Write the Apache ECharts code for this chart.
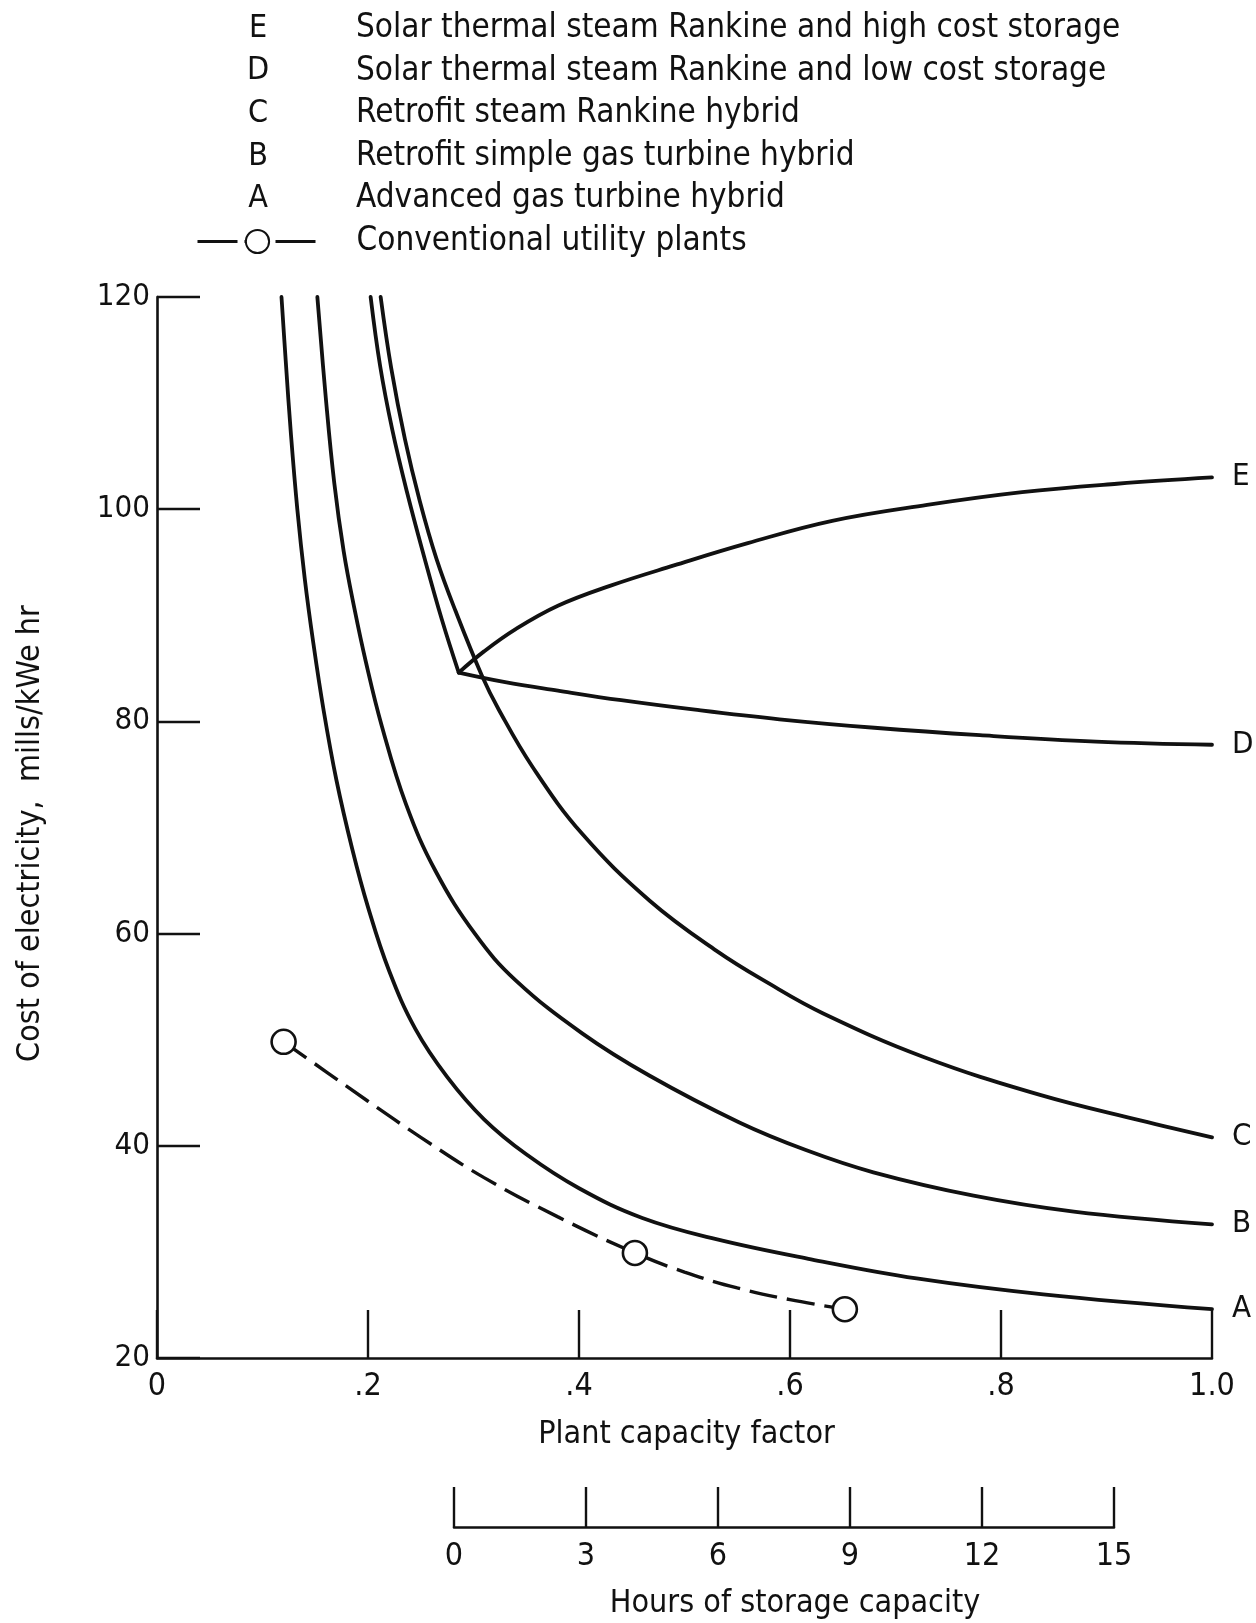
<!DOCTYPE html>
<html>
<head>
<meta charset="utf-8">
<script src="https://cdn.jsdelivr.net/npm/echarts@6/dist/echarts.min.js"></script>
<style>
  html, body { margin: 0; padding: 0; background: #ffffff; }
  #chart { width: 1256px; height: 1623px; }
</style>
</head>
<body>
<div id="chart"></div>
<script>
// Cost of electricity vs. plant capacity factor for solar / hybrid plant options.
// Each curve is a list of [capacity factor, cost in mills/kWe hr] points.

const curveA = [[0.118,120],[0.122,114],[0.127,107],[0.133,100],[0.140,93.5],[0.148,87.5],[0.158,81],
  [0.170,74.5],[0.185,68],[0.200,62.5],[0.220,56.5],[0.245,51],[0.275,46.5],[0.31,42.5],[0.35,39.2],
  [0.40,36],[0.46,33.2],[0.53,31.2],[0.62,29.3],[0.72,27.5],[0.84,26.0],[1.0,24.6]];

const curveB = [[0.152,120],[0.160,110.5],[0.168,102.5],[0.177,96],[0.187,90.7],[0.198,85.6],[0.213,79.6],
  [0.236,72.2],[0.264,65.9],[0.302,59.9],[0.340,55.6],[0.403,50.6],[0.467,46.6],[0.552,42.2],[0.615,39.6],
  [0.679,37.5],[0.774,35.3],[0.869,33.8],[1.0,32.6]];

const curveC = [[0.212,120],[0.222,113.3],[0.235,106.6],[0.249,100.8],[0.265,95.3],[0.283,90.4],[0.308,84.3],
  [0.324,81.1],[0.356,75.7],[0.403,69.4],[0.467,63.1],[0.530,58.4],[0.58,55.3],[0.631,52.5],[0.726,48.4],
  [0.837,44.8],[0.932,42.4],[1.0,40.8]];

// collector-only leg shared by D and E, up to the point where storage is added
const curveDEShared = [[0.2025,120],[0.2115,113.5],[0.223,107.5],[0.237,101.6],[0.253,95.6],[0.270,89.6],[0.286,84.6]];

const curveD = [[0.286,84.6],[0.33,83.7],[0.38,82.9],[0.44,82.0],[0.51,81.1],[0.59,80.2],[0.68,79.4],
  [0.78,78.7],[0.89,78.1],[1.0,77.8]];

const curveE = [[0.286,84.6],[0.31,86.6],[0.34,88.7],[0.38,90.9],[0.43,92.8],[0.49,94.7],[0.56,96.8],
  [0.64,98.9],[0.73,100.4],[0.82,101.6],[0.91,102.4],[1.0,103.0]];

const conventionalPath = [[0.12,49.8],[0.16,47.0],[0.20,44.2],[0.25,40.8],[0.31,37.0],[0.38,33.3],
  [0.453,29.9],[0.50,28.1],[0.55,26.6],[0.60,25.5],[0.652,24.6]];
const conventionalPlants = [[0.12,49.8],[0.453,29.9],[0.652,24.6]];

const seriesLetters = ['E', 'D', 'C', 'B', 'A'];
const seriesDescriptions = [
  'Solar thermal steam Rankine and high cost storage',
  'Solar thermal steam Rankine and low cost storage',
  'Retrofit steam Rankine hybrid',
  'Retrofit simple gas turbine hybrid',
  'Advanced gas turbine hybrid'
];
const conventionalName = 'Conventional utility plants';

const capacityTicks = [0, 0.2, 0.4, 0.6, 0.8, 1.0];
const costTicks = [20, 40, 60, 80, 100, 120];
const storageHourTicks = [0, 3, 6, 9, 12, 15];

const xTitle = 'Plant capacity factor';
const yTitle = 'Cost of electricity,  mills/kWe hr';
const storageTitle = 'Hours of storage capacity';

const FONT = "'DejaVu Sans Condensed', 'Liberation Sans Narrow', 'DejaVu Sans', sans-serif";
const NUM_FONT = "'Liberation Sans Narrow', 'DejaVu Sans Condensed', sans-serif";
const INK = '#111111';

const chart = echarts.init(document.getElementById('chart'), null, { renderer: 'canvas' });

function solidCurve(name, data, withLabel) {
  return {
    name: name,
    type: 'line',
    xAxisIndex: 0,
    yAxisIndex: 0,
    data: data,
    smooth: 0.4,
    symbol: 'none',
    lineStyle: { color: INK, width: 3.8, cap: 'round', join: 'round' },
    itemStyle: { color: INK },
    emphasis: { disabled: true },
    silent: true,
    z: 3,
    endLabel: withLabel ? {
      show: true,
      formatter: '{a}',
      distance: 20,
      color: INK,
      fontFamily: FONT,
      fontSize: 31
    } : { show: false }
  };
}

const plantKey = p => p[0] + ',' + p[1];
const plantSet = new Set(conventionalPlants.map(plantKey));
const conventionalData = conventionalPath.map(p =>
  plantSet.has(plantKey(p)) ? { value: p } : { value: p, symbol: 'none' });

const capFmt = v => {
  if (v === 0) return '0';
  if (Math.abs(v - 1) < 1e-9) return '1.0';
  return '.' + Math.round(v * 10);
};

const option = {
  backgroundColor: '#ffffff',
  animation: false,
  textStyle: { fontFamily: FONT, color: INK },
  grid: [
    { left: 157, right: 44, top: 297, bottom: 265, containLabel: false },
    { left: 454, width: 660, top: 1487, height: 40, containLabel: false }
  ],
  legend: [
    {
      data: seriesLetters.map(n => ({ name: n, icon: 'none' })),
      orient: 'vertical',
      left: 150,
      top: 7,
      itemWidth: 0,
      itemHeight: 12,
      itemGap: 9.6,
      selectedMode: false,
      formatter: name => '{k|' + name + '}{t|' + seriesDescriptions[seriesLetters.indexOf(name)] + '}',
      textStyle: {
        color: INK,
        fontFamily: FONT,
        fontSize: 33,
        rich: {
          k: { width: 196, align: 'center', fontSize: 32, fontFamily: FONT, color: INK, lineHeight: 34 },
          t: { fontSize: 33, fontFamily: FONT, color: INK, lineHeight: 34 }
        }
      }
    },
    {
      data: [conventionalName],
      orient: 'vertical',
      left: 191,
      top: 220,
      itemWidth: 120,
      itemHeight: 29,
      selectedMode: false,
      lineStyle: { type: [40, 7, 24, 7], width: 3 },
      textStyle: { color: INK, fontFamily: FONT, fontSize: 33, padding: [0, 0, 0, 34] }
    }
  ],
  xAxis: [
    {
      type: 'value',
      gridIndex: 0,
      min: capacityTicks[0],
      max: capacityTicks[capacityTicks.length - 1],
      interval: 0.2,
      name: xTitle,
      nameLocation: 'middle',
      nameGap: 57,
      nameTextStyle: { fontFamily: FONT, fontSize: 32, color: INK, padding: [4, 0, 0, 4] },
      axisLine: { show: true, onZero: false, lineStyle: { color: INK, width: 2.6 } },
      axisTick: { show: true, inside: true, length: 48, lineStyle: { color: INK, width: 2.4 } },
      axisLabel: { formatter: capFmt, fontFamily: NUM_FONT, fontSize: 32, color: INK, margin: 13 },
      splitLine: { show: false }
    },
    {
      type: 'value',
      gridIndex: 1,
      min: storageHourTicks[0],
      max: storageHourTicks[storageHourTicks.length - 1],
      interval: 3,
      name: storageTitle,
      nameLocation: 'middle',
      nameGap: 57,
      nameTextStyle: { fontFamily: FONT, fontSize: 32, color: INK, padding: [4, 0, 0, 22] },
      axisLine: { show: true, onZero: false, lineStyle: { color: INK, width: 2.6 } },
      axisTick: { show: true, inside: true, length: 40, lineStyle: { color: INK, width: 2.4 } },
      axisLabel: { fontFamily: NUM_FONT, fontSize: 32, color: INK, margin: 14 },
      splitLine: { show: false }
    }
  ],
  yAxis: [
    {
      type: 'value',
      gridIndex: 0,
      min: costTicks[0],
      max: costTicks[costTicks.length - 1],
      interval: 20,
      name: yTitle,
      nameLocation: 'middle',
      nameGap: 110,
      nameTextStyle: { fontFamily: FONT, fontSize: 32, color: INK, padding: [0, 12, 0, 0] },
      axisLine: { show: true, onZero: false, lineStyle: { color: INK, width: 2.6 } },
      axisTick: { show: true, inside: true, length: 43, lineStyle: { color: INK, width: 2.4 } },
      axisLabel: { fontFamily: NUM_FONT, fontSize: 31, color: INK, margin: 7 },
      splitLine: { show: false }
    },
    {
      type: 'value',
      gridIndex: 1,
      min: 0,
      max: 1,
      show: false
    }
  ],
  series: [
    solidCurve('E', curveE, true),
    solidCurve('D', curveD, true),
    solidCurve('DE collector only', curveDEShared, false),
    solidCurve('C', curveC, true),
    solidCurve('B', curveB, true),
    solidCurve('A', curveA, true),
    {
      name: conventionalName,
      type: 'line',
      xAxisIndex: 0,
      yAxisIndex: 0,
      data: conventionalData,
      smooth: 0.4,
      symbol: 'circle',
      symbolSize: 24,
      showSymbol: true,
      showAllSymbol: true,
      lineStyle: { color: INK, width: 3.4, type: [28, 10] },
      itemStyle: { color: '#ffffff', borderColor: INK, borderWidth: 2.6 },
      emphasis: { disabled: true },
      silent: true,
      z: 4
    }
  ]
};

chart.setOption(option);
</script>
</body>
</html>
